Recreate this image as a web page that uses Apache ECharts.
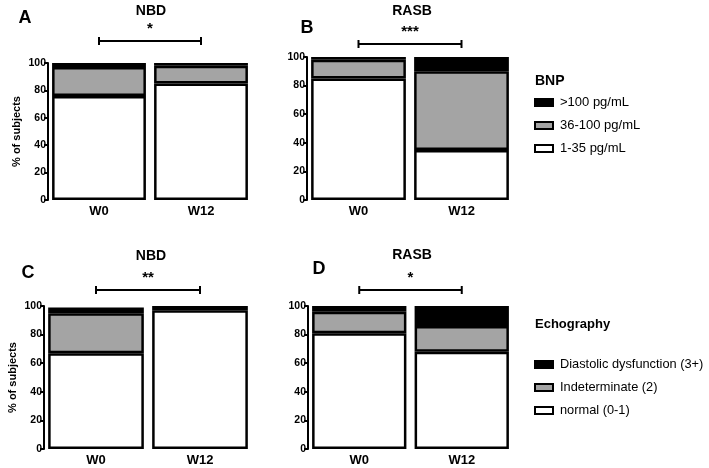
<!DOCTYPE html>
<html>
<head>
<meta charset="utf-8">
<script src="https://cdn.jsdelivr.net/npm/echarts@6/dist/echarts.min.js"></script>
<style>html,body{margin:0;padding:0;background:#fff}#c{width:709px;height:468px}</style>
</head>
<body>
<div id="c"></div>
<script>
// ---- data ----
const categories = ['W0', 'W12'];
const yTicks = [0, 20, 40, 60, 80, 100];

const bnpNames = ['>100 pg/mL', '36-100 pg/mL', '1-35 pg/mL'];
const echoNames = ['Diastolic dysfunction (3+)', 'Indeterminate (2)', 'normal (0-1)'];

// Panel A: BNP, NBD
const nbdBnpHigh = [3, 2];
const nbdBnpMid = [21, 13];
const nbdBnpLow = [76, 85];
// Panel B: BNP, RASB
const rasbBnpHigh = [2, 10];
const rasbBnpMid = [13, 55];
const rasbBnpLow = [85, 35];
// Panel C: Echography, NBD
const nbdEchoDys = [4, 0];
const nbdEchoInd = [28, 3];
const nbdEchoNorm = [67, 97];
// Panel D: Echography, RASB
const rasbEchoDys = [4, 14];
const rasbEchoInd = [15, 18];
const rasbEchoNorm = [81, 68];

const panelTitles = ['NBD', 'RASB', 'NBD', 'RASB'];
const panelLetters = ['A', 'B', 'C', 'D'];
const significance = ['*', '***', '**', '*'];

// ---- layout ----
const FONT = '"Liberation Sans", Arial, sans-serif';
const grids = [
  {left: 48, top: 63, width: 204, height: 137},
  {left: 307, top: 57, width: 206, height: 143},
  {left: 44, top: 306, width: 208, height: 143},
  {left: 308, top: 306, width: 205, height: 143}
];
const titlePos = [[151, 4], [412, 4], [151, 249], [412, 248]];
const letterPos = [[25, 9], [307, 19], [28, 264], [319, 260]];
const bracketY = [41, 44, 290, 290];

const colors = ['#000000', '#a4a4a4', '#ffffff'];
const panelData = [
  [nbdBnpHigh, nbdBnpMid, nbdBnpLow],
  [rasbBnpHigh, rasbBnpMid, rasbBnpLow],
  [nbdEchoDys, nbdEchoInd, nbdEchoNorm],
  [rasbEchoDys, rasbEchoInd, rasbEchoNorm]
];
const panelNames = [bnpNames, bnpNames, echoNames, echoNames];

const xAxes = [], yAxes = [], series = [], titles = [];
grids.forEach((g, i) => {
  xAxes.push({
    type: 'category', gridIndex: i, data: categories,
    axisLine: {show: false}, axisTick: {show: false},
    axisLabel: {color: '#000', fontFamily: FONT, fontWeight: 'bold', fontSize: 13, margin: 5}
  });
  yAxes.push({
    type: 'value', gridIndex: i, min: 0, max: 100, interval: 20,
    name: (i % 2 === 0) ? '% of subjects' : '',
    nameLocation: 'middle', nameRotate: 90, nameGap: 26,
    nameTextStyle: {color: '#000', fontFamily: FONT, fontWeight: 'bold', fontSize: 11},
    axisLine: {show: true, lineStyle: {color: '#000', width: 2}},
    axisTick: {show: true, length: 4, lineStyle: {color: '#000', width: 2}},
    splitLine: {show: false},
    axisLabel: {color: '#000', fontFamily: FONT, fontWeight: 'bold', fontSize: 10.5, margin: 2,
      formatter: v => yTicks.includes(v) ? String(v) : ''}
  });
  // bottom to top: low, mid, high (zero-height segments are not drawn)
  for (let k = 2; k >= 0; k--) {
    series.push({
      type: 'bar', name: panelNames[i][k], stack: 's' + i,
      xAxisIndex: i, yAxisIndex: i, data: panelData[i][k].map(v => v === 0 ? '-' : v),
      barCategoryGap: '8%',
      itemStyle: {color: colors[k], borderColor: '#000', borderWidth: 2.5},
      emphasis: {disabled: true}
    });
  }
  titles.push({text: panelTitles[i], left: titlePos[i][0], top: titlePos[i][1], textAlign: 'center', padding: 0,
    textStyle: {fontFamily: FONT, fontWeight: 'bold', fontSize: 14, color: '#000'}});
  titles.push({text: panelLetters[i], left: letterPos[i][0], top: letterPos[i][1], textAlign: 'center', padding: 0,
    textStyle: {fontFamily: FONT, fontWeight: 'bold', fontSize: 18, color: '#000'}});
});
titles.push({text: 'BNP', left: 535, top: 74, padding: 0,
  textStyle: {fontFamily: FONT, fontWeight: 'bold', fontSize: 14, color: '#000'}});
titles.push({text: 'Echography', left: 535, top: 318, padding: 0,
  textStyle: {fontFamily: FONT, fontWeight: 'bold', fontSize: 13, color: '#000'}});

const legendCommon = {
  orient: 'vertical', left: 534, itemWidth: 18, itemHeight: 7, itemGap: 10, padding: 0,
  icon: 'rect',
  itemStyle: {borderColor: '#000', borderWidth: 2},
  selectedMode: false
};

const chart = echarts.init(document.getElementById('c'), null, {renderer: 'canvas'});
chart.setOption({
  backgroundColor: '#fff',
  animation: false,
  title: titles,
  grid: grids,
  xAxis: xAxes,
  yAxis: yAxes,
  legend: [
    Object.assign({}, legendCommon, {top: 96, data: bnpNames,
      textStyle: {fontFamily: FONT, fontSize: 13, color: '#000', padding: [0, 0, 0, 2]}}),
    Object.assign({}, legendCommon, {top: 358, data: echoNames,
      textStyle: {fontFamily: FONT, fontSize: 12.8, color: '#000', padding: [0, 0, 0, 2]}})
  ],
  series: series
});

// significance brackets between category centers
const graphics = [];
grids.forEach((g, i) => {
  const x0 = chart.convertToPixel({xAxisIndex: i}, categories[0]);
  const x1 = chart.convertToPixel({xAxisIndex: i}, categories[1]);
  const y = bracketY[i];
  const ls = {stroke: '#000', lineWidth: 2};
  graphics.push({type: 'line', shape: {x1: x0, y1: y, x2: x1, y2: y}, style: ls});
  graphics.push({type: 'line', shape: {x1: x0, y1: y - 4, x2: x0, y2: y + 4}, style: ls});
  graphics.push({type: 'line', shape: {x1: x1, y1: y - 4, x2: x1, y2: y + 4}, style: ls});
  graphics.push({type: 'text', x: (x0 + x1) / 2, y: y - 5,
    style: {text: significance[i], fill: '#000', font: 'bold 15px ' + FONT, textAlign: 'center', textVerticalAlign: 'bottom'}});
});
chart.setOption({graphic: graphics});
</script>
</body>
</html>
